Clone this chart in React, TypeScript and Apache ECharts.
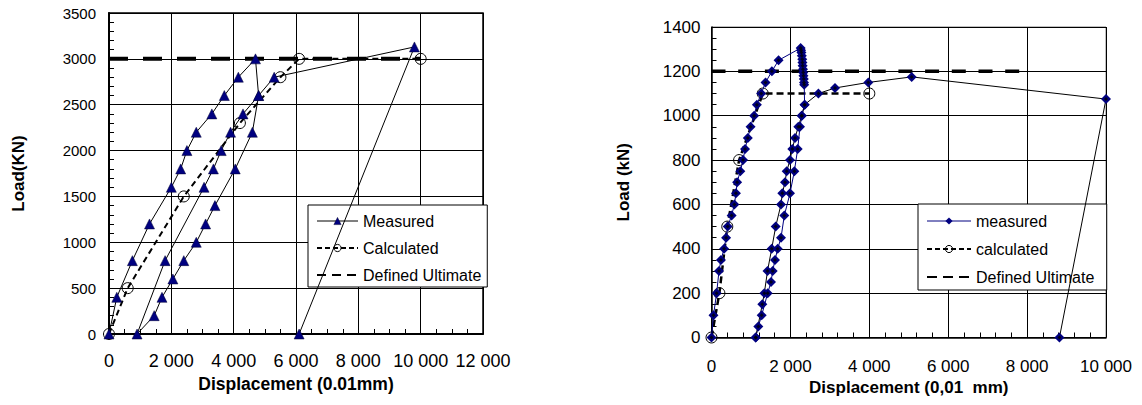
import React, { useEffect, useRef } from "react";
import * as echarts from "echarts";

// ---------- Left chart data (Displacement 0.01mm, Load kN) ----------
const leftMeasured: [number, number][] = [
  [0, 0], [250, 400], [750, 800], [1300, 1200], [2000, 1600], [2300, 1800],
  [2500, 2000], [2800, 2200], [3300, 2400], [3700, 2600], [4150, 2800], [4700, 3000],
  [4800, 2600], [4600, 2200], [4050, 1800], [3400, 1400], [3100, 1200], [2800, 1000],
  [2400, 800], [2050, 600], [1700, 400], [1450, 200], [900, 0],
  [1800, 800], [3050, 1600], [3350, 1800], [3600, 2000], [3900, 2200], [4300, 2400],
  [4800, 2600], [5300, 2800], [9800, 3130], [6100, 0],
];
const leftCalculated: [number, number][] = [
  [0, 0], [600, 500], [2400, 1500], [4200, 2300], [5500, 2800], [6100, 3000], [10000, 3000],
];
const leftUltimate: [number, number][] = [[0, 3000], [10000, 3000]];

// ---------- Right chart data (Displacement 0,01 mm, Load kN) ----------
const rightMeasuredLoad: [number, number][] = [
  [0, 0], [50, 100], [130, 200], [190, 300], [240, 350], [320, 400], [370, 450],
  [410, 500], [510, 550], [580, 600], [620, 650], [650, 700], [730, 750], [800, 800],
  [850, 850], [920, 900], [990, 950], [1080, 1000], [1150, 1050], [1260, 1100],
  [1370, 1150], [1530, 1200], [1700, 1250], [2260, 1305],
  [2270, 1295], [2280, 1285], [2290, 1270], [2300, 1255], [2305, 1240], [2310, 1225],
  [2320, 1210], [2325, 1195], [2330, 1180], [2340, 1165], [2345, 1150], [2350, 1140],
  [2360, 1050], [2290, 1000], [2243, 950], [2185, 850], [2100, 750], [1990, 650],
  [1846, 550], [1762, 450], [1678, 400], [1610, 350], [1551, 300], [1508, 250],
  [1424, 200], [1272, 100], [1187, 50], [1120, 0],
];
const rightMeasuredReload: [number, number][] = [
  [1120, 0], [1288, 150], [1339, 200], [1420, 300], [1526, 400], [1627, 500],
  [1762, 600], [1795, 650], [1863, 700], [1906, 750], [1990, 800], [2049, 850],
  [2117, 900], [2200, 950], [2286, 1000], [2360, 1050], [2710, 1100], [3130, 1125],
  [3975, 1150], [5075, 1175], [10000, 1075], [8820, 0],
];
const rightCalculated: [number, number][] = [
  [0, 0], [200, 200], [400, 500], [700, 800], [1300, 1100], [4000, 1100],
];
const rightUltimate: [number, number][] = [[0, 1200], [7800, 1200]];

// ---------- Axis ticks ----------
const leftXTicks = { min: 0, max: 12000, interval: 2000 };
const leftYTicks = { min: 0, max: 3500, interval: 500 };
const rightXTicks = { min: 0, max: 10000, interval: 2000 };
const rightYTicks = { min: 0, max: 1400, interval: 200 };

const FONT = "'Liberation Sans', Arial, sans-serif";
const NAVY = "#000080";

const fmtThousands = (v: number) =>
  v >= 1000 ? `${Math.floor(v / 1000)} ${String(v % 1000).padStart(3, "0")}` : `${v}`;
const fmtPlain = (v: number) => `${v}`;

function axisBase(gridIndex: number, lineW: number) {
  return {
    type: "value" as const,
    gridIndex,
    axisLine: { show: true, onZero: false, lineStyle: { color: "#000", width: lineW } },
    axisTick: { show: true, inside: true, length: 5, lineStyle: { color: "#000", width: 1 } },
    splitLine: { show: true, lineStyle: { color: "#000", width: 1 } },
    minorSplitLine: { show: false },
  };
}

export default function App() {
  const ref = useRef<HTMLDivElement>(null);

  useEffect(() => {
    if (!ref.current) return;
    const chart = echarts.init(ref.current, null, { renderer: "svg" });

    const option: any = {
      animation: false,
      backgroundColor: "#fff",
      textStyle: { fontFamily: FONT, color: "#000" },
      grid: [
        { left: 109, top: 13, width: 374, height: 321, show: true, borderColor: "#000", borderWidth: 1.5, backgroundColor: "transparent" },
        { left: 711.5, top: 27, width: 394.5, height: 310.5, show: true, borderColor: "#808080", borderWidth: 1, backgroundColor: "transparent" },
      ],
      xAxis: [
        {
          ...axisBase(0, 2),
          ...leftXTicks,
          minorTick: { show: true, splitNumber: 4, length: 5, lineStyle: { color: "#000", width: 1 } },
          axisLabel: { formatter: fmtThousands, fontSize: 18, color: "#000", margin: 18, fontFamily: FONT },
          name: "Displacement (0.01mm)",
          nameLocation: "middle",
          nameGap: 38,
          nameTextStyle: { fontWeight: "bold", fontSize: 17.5, color: "#000", fontFamily: FONT },
        },
        {
          ...axisBase(1, 1.5),
          ...rightXTicks,
          minorTick: { show: true, splitNumber: 5, length: 5, lineStyle: { color: "#000", width: 1 } },
          axisLabel: { formatter: fmtThousands, fontSize: 17, color: "#000", margin: 20, fontFamily: FONT },
          name: "Displacement (0,01  mm)",
          nameLocation: "middle",
          nameGap: 41,
          nameTextStyle: { fontWeight: "bold", fontSize: 17, color: "#000", fontFamily: FONT },
        },
      ],
      yAxis: [
        {
          ...axisBase(0, 2),
          ...leftYTicks,
          minorTick: { show: true, splitNumber: 5, length: 5, lineStyle: { color: "#000", width: 1 } },
          axisLabel: { formatter: fmtPlain, fontSize: 15, color: "#000", margin: 13, fontFamily: FONT },
          name: "Load(KN)",
          nameLocation: "middle",
          nameGap: 82,
          nameTextStyle: { fontWeight: "bold", fontSize: 17, color: "#000", fontFamily: FONT },
        },
        {
          ...axisBase(1, 1.5),
          ...rightYTicks,
          minorTick: { show: true, splitNumber: 4, length: 5, lineStyle: { color: "#000", width: 1 } },
          axisLabel: { formatter: fmtPlain, fontSize: 17, color: "#000", margin: 11, fontFamily: FONT },
          name: "Load (kN)",
          nameLocation: "middle",
          nameGap: 80,
          nameTextStyle: { fontWeight: "bold", fontSize: 17, color: "#000", fontFamily: FONT },
        },
      ],
      legend: [
        {
          left: 308,
          top: 205,
          orient: "vertical",
          itemWidth: 41,
          itemHeight: 9,
          itemGap: 11,
          padding: [8, 6, 4, 8],
          borderColor: "#000",
          borderWidth: 1,
          backgroundColor: "#fff",
          textStyle: { fontSize: 16, color: "#000", fontFamily: FONT },
          selectedMode: false,
          data: [
            { name: "Measured", lineStyle: { width: 1, type: "solid" }, itemStyle: { borderWidth: 0.5 } },
            { name: "Calculated", lineStyle: { width: 2, type: [5, 3] }, itemStyle: { borderWidth: 1 } },
            { name: "Defined Ultimate", lineStyle: { width: 2, type: [9, 6] } },
          ],
        },
        {
          left: 918,
          top: 204,
          orient: "vertical",
          itemWidth: 44,
          itemHeight: 9,
          itemGap: 12,
          padding: [9, 8, 5, 8],
          borderColor: "#000",
          borderWidth: 1,
          backgroundColor: "#fff",
          textStyle: { fontSize: 16, color: "#000", fontFamily: FONT },
          selectedMode: false,
          data: [
            { name: "measured", lineStyle: { width: 1, type: "solid" } },
            { name: "calculated", lineStyle: { width: 2, type: [5, 3] }, itemStyle: { borderWidth: 1 } },
            { name: "Defined Ultimate ", lineStyle: { width: 2, type: [10, 6] } },
          ],
        },
      ],
      series: [
        // ---- left chart ----
        {
          name: "Defined Ultimate",
          type: "line",
          xAxisIndex: 0,
          yAxisIndex: 0,
          data: leftUltimate,
          symbol: "circle",
          showSymbol: false,
          itemStyle: { color: "rgba(0,0,0,0)" },
          lineStyle: { color: "#000", width: 4, type: [19, 15] },
          z: 2,
        },
        {
          name: "Calculated",
          type: "line",
          xAxisIndex: 0,
          yAxisIndex: 0,
          data: leftCalculated,
          symbol: "circle",
          symbolSize: 11,
          itemStyle: { color: "rgba(0,0,0,0)", borderColor: "#000", borderWidth: 1 },
          lineStyle: { color: "#000", width: 2, type: [6, 4] },
          z: 3,
        },
        {
          name: "Measured",
          type: "line",
          xAxisIndex: 0,
          yAxisIndex: 0,
          data: leftMeasured,
          symbol: "triangle",
          symbolSize: 10,
          itemStyle: { color: NAVY, borderColor: "#000033", borderWidth: 0.5 },
          lineStyle: { color: "#000", width: 1 },
          z: 4,
        },
        // ---- right chart ----
        {
          name: "Defined Ultimate ",
          type: "line",
          xAxisIndex: 1,
          yAxisIndex: 1,
          data: rightUltimate,
          symbol: "circle",
          showSymbol: false,
          itemStyle: { color: "rgba(0,0,0,0)" },
          lineStyle: { color: "#000", width: 3.5, type: [14, 12.7] },
          z: 2,
        },
        {
          name: "calculated",
          type: "line",
          xAxisIndex: 1,
          yAxisIndex: 1,
          data: rightCalculated,
          symbol: "circle",
          symbolSize: 11,
          itemStyle: { color: "rgba(0,0,0,0)", borderColor: "#000", borderWidth: 1 },
          lineStyle: { color: "#000", width: 2.5, type: [7, 4] },
          z: 3,
        },
        {
          name: "measured",
          type: "line",
          xAxisIndex: 1,
          yAxisIndex: 1,
          data: rightMeasuredLoad,
          symbol: "diamond",
          symbolSize: 10,
          itemStyle: { color: NAVY },
          lineStyle: { color: NAVY, width: 1 },
          z: 4,
        },
        {
          name: "measured-reload",
          type: "line",
          xAxisIndex: 1,
          yAxisIndex: 1,
          data: rightMeasuredReload,
          symbol: "diamond",
          symbolSize: 10,
          itemStyle: { color: NAVY },
          lineStyle: { color: "#000", width: 1 },
          z: 4,
        },
        {
          name: "measured-dots",
          type: "scatter",
          xAxisIndex: 1,
          yAxisIndex: 1,
          data: rightMeasuredLoad.concat(rightMeasuredReload),
          symbol: "diamond",
          symbolSize: 4,
          itemStyle: { color: "#000" },
          silent: true,
          z: 5,
        },
      ],
    };

    chart.setOption(option);
    return () => chart.dispose();
  }, []);

  return (
    <div
      ref={ref}
      style={{ position: "absolute", left: 0, top: 0, width: 1142, height: 405, background: "#fff" }}
    />
  );
}
